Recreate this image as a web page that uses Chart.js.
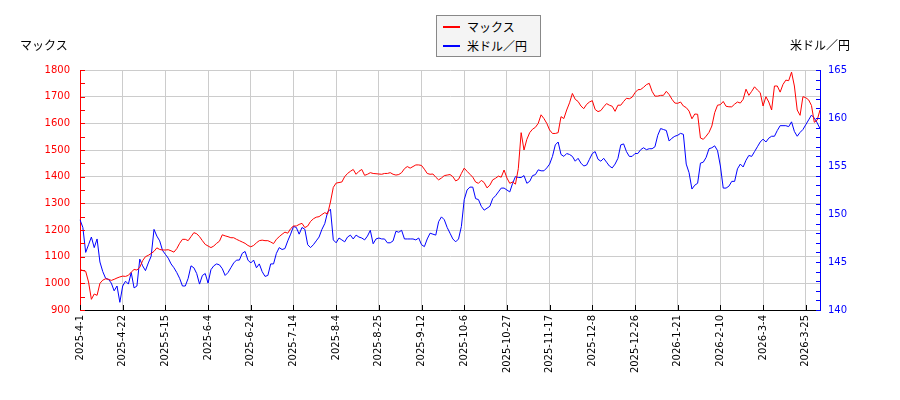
<!DOCTYPE html>
<html>
<head>
<meta charset="utf-8">
<script src="https://cdn.jsdelivr.net/npm/chart.js@4/dist/chart.umd.min.js"></script>
<style>
  html, body { margin:0; padding:0; background:#fff; }
  #wrap { position:relative; width:900px; height:400px; }
  canvas { position:absolute; left:0; top:0; }
  .ttl { position:absolute; font-family:"Noto Sans CJK JP", sans-serif; font-size:12px; color:#000; line-height:14px; white-space:nowrap; }
  #legend { position:absolute; left:436px; top:15px; width:103px; height:40px; border:1px solid #888; background:#f4f4f4; font-family:"Noto Sans CJK JP", sans-serif; font-size:12px; color:#000; }
  .li { position:absolute; left:0; height:16px; width:100px; }
  .sw { position:absolute; left:6px; top:7px; width:17px; height:2px; }
  .lt { position:absolute; left:30px; top:0; line-height:16px; white-space:nowrap; }
</style>
</head>
<body>
<div id="wrap">
  <canvas id="c" width="900" height="400"></canvas>
  <div class="ttl" style="left:20px; top:38px;">マックス</div>
  <div class="ttl" style="right:50px; top:38px;">米ドル／円</div>
  <div id="legend">
    <div class="li" style="top:3px;"><span class="sw" style="background:#ff0000"></span><span class="lt">マックス</span></div>
    <div class="li" style="top:22px;"><span class="sw" style="background:#0000ff"></span><span class="lt">米ドル／円</span></div>
  </div>
</div>
<script>
const seriesNames = ["マックス", "米ドル／円"];
const tickLabels = ["2025-4-1","2025-4-22","2025-5-15","2025-6-4","2025-6-24","2025-7-14","2025-8-4","2025-8-25","2025-9-12","2025-10-6","2025-10-27","2025-11-17","2025-12-8","2025-12-26","2026-1-21","2026-2-10","2026-3-4","2026-3-25"];
const tickEvery = 15;

const makkusu = [
1052,1048,1045,1005,940,960,955,1000,1012,1017,
1015,1011,1015,1020,1024,1027,1026,1030,1042,1052,
1050,1060,1085,1100,1105,1112,1120,1133,1127,1125,
1125,1126,1122,1117,1130,1150,1165,1165,1160,1175,
1190,1186,1175,1160,1146,1140,1134,1140,1150,1158,
1182,1178,1175,1171,1171,1165,1160,1155,1150,1142,
1137,1142,1152,1160,1162,1160,1160,1155,1149,1165,
1175,1184,1192,1188,1205,1215,1215,1221,1225,1209,
1215,1232,1242,1248,1250,1258,1265,1260,1305,1360,
1376,1378,1380,1400,1412,1420,1427,1409,1420,1427,
1405,1409,1415,1412,1411,1410,1409,1412,1412,1415,
1409,1406,1408,1415,1430,1438,1432,1438,1444,1444,
1442,1428,1412,1409,1410,1398,1388,1395,1404,1406,
1408,1400,1384,1390,1412,1432,1420,1409,1398,1380,
1375,1386,1378,1358,1368,1388,1394,1402,1398,1425,
1395,1375,1380,1372,1430,1565,1500,1540,1565,1578,
1585,1600,1632,1618,1600,1575,1562,1562,1565,1625,
1618,1650,1677,1712,1690,1682,1665,1655,1671,1680,
1685,1652,1644,1648,1662,1674,1668,1664,1645,1668,
1668,1682,1694,1692,1698,1715,1726,1727,1735,1745,
1750,1720,1702,1702,1705,1705,1720,1708,1690,1676,
1675,1680,1665,1659,1646,1617,1635,1634,1545,1540,
1552,1566,1590,1640,1668,1670,1682,1664,1662,1662,
1672,1680,1676,1690,1728,1705,1720,1737,1725,1715,
1665,1700,1680,1650,1740,1740,1717,1746,1762,1760,
1792,1740,1650,1630,1700,1696,1688,1667,1604,1612,
1650
];

const usdjpy = [
149.4,148.6,146.0,146.8,147.6,146.5,147.4,145.0,144.0,143.3,
143.2,142.8,142.0,142.5,140.8,142.5,143.0,142.7,143.9,142.3,
142.5,145.3,144.6,144.1,144.9,145.6,148.4,147.7,147.2,146.2,
145.8,145.4,144.8,144.4,143.9,143.3,142.5,142.5,143.3,144.6,
144.4,143.8,142.7,143.6,143.8,142.8,144.2,144.6,144.8,144.7,
144.3,143.6,143.9,144.4,144.9,145.2,145.2,145.9,146.1,145.2,
144.9,145.2,144.4,144.8,144.0,143.5,143.6,144.8,144.8,145.9,
146.5,146.3,146.4,147.2,147.9,148.7,148.6,147.9,148.6,148.4,
146.8,146.5,146.8,147.2,147.6,148.4,149.0,150.2,150.5,147.3,
147.0,147.5,147.3,147.1,147.6,147.8,147.4,147.8,147.6,147.5,
147.3,147.7,148.3,146.9,147.4,147.5,147.4,147.4,147.0,147.0,
147.2,148.2,148.1,148.3,147.4,147.4,147.4,147.4,147.3,147.5,
146.8,146.6,147.4,148.0,147.9,147.8,149.2,149.7,149.4,148.6,
148.0,147.4,147.1,147.4,148.7,151.5,152.5,152.8,152.8,151.6,
151.5,150.8,150.4,150.6,150.8,151.6,151.9,152.3,152.7,152.7,
152.5,152.3,153.2,153.9,153.8,153.8,154.0,153.2,153.4,154.0,
154.1,154.6,154.5,154.5,154.8,155.2,156.0,157.2,157.5,156.2,
156.0,156.3,156.2,156.0,155.5,155.8,155.3,155.0,155.1,155.7,
156.3,156.5,155.7,155.5,155.8,155.4,155.0,154.8,155.2,155.8,
157.2,157.3,156.5,156.0,156.0,156.3,156.3,156.7,156.9,156.7,
156.8,156.8,157.0,158.2,158.9,158.8,158.7,157.6,157.9,158.1,
158.2,158.4,158.3,155.2,154.3,152.6,153.0,153.2,155.3,155.4,
155.9,156.8,156.9,157.1,156.6,155.0,152.7,152.7,152.9,153.4,
153.4,154.7,155.2,154.9,155.6,156.1,156.0,156.5,157.0,157.5,
157.8,157.5,157.9,158.1,158.1,158.7,159.2,159.2,159.2,159.1,
159.6,158.6,158.1,158.5,158.8,159.3,159.8,160.3,160.0,159.5,
158.9
];

const leftRange = [900, 1800];
const rightRange = [140, 165];

const categories = makkusu.map((_, i) => i);

const inwardTicks = {
  id: 'inwardTicks',
  afterDraw(chart) {
    const c = chart.ctx, a = chart.chartArea;
    const sy = chart.scales.y, s1 = chart.scales.y1, sx = chart.scales.x;
    c.save();
    c.lineWidth = 1;
    c.strokeStyle = '#ff0000';
    sy.ticks.forEach(t => {
      const p = Math.round(sy.getPixelForValue(t.value)) + 0.5;
      c.beginPath(); c.moveTo(a.left, p); c.lineTo(a.left + 5, p); c.stroke();
    });
    c.strokeStyle = '#0000ff';
    s1.ticks.forEach(t => {
      const p = Math.round(s1.getPixelForValue(t.value)) + 0.5;
      c.beginPath(); c.moveTo(a.right, p); c.lineTo(a.right - 4, p); c.stroke();
    });
    c.strokeStyle = '#000000';
    sx.ticks.forEach(t => {
      const p = Math.round(sx.getPixelForValue(t.value)) + 0.5;
      c.beginPath(); c.moveTo(p, a.bottom); c.lineTo(p, a.bottom - 5); c.stroke();
    });
    c.restore();
  }
};

new Chart(document.getElementById('c'), {
  type: 'line',
  data: {
    labels: categories,
    datasets: [
      { label: seriesNames[0], data: makkusu, borderColor: '#ff0000', borderWidth: 1, pointRadius: 0, tension: 0, yAxisID: 'y' },
      { label: seriesNames[1], data: usdjpy, borderColor: '#0000ff', borderWidth: 1, pointRadius: 0, tension: 0, yAxisID: 'y1' }
    ]
  },
  options: {
    responsive: false,
    animation: false,
    layout: { padding: { top: 70, left: 0, right: 0, bottom: 0 } },
    plugins: { legend: { display: false }, tooltip: { enabled: false }, title: { display: false } },
    scales: {
      x: {
        type: 'category',
        afterBuildTicks: s => { s.ticks = s.ticks.filter(t => t.value % tickEvery === 0); },
        afterFit: s => { s.height = 90; },
        ticks: {
          autoSkip: false, minRotation: 90, maxRotation: 90, padding: 5, color: '#000',
          font: { family: 'DejaVu Sans', size: 10 },
          callback: v => tickLabels[v / tickEvery]
        },
        grid: { color: '#cccccc', drawTicks: false },
        border: { color: '#000000' }
      },
      y: {
        position: 'left',
        min: leftRange[0], max: leftRange[1],
        afterFit: s => { s.width = 80; },
        ticks: {
          autoSkip: false, stepSize: 50, padding: 10, color: '#ff0000',
          font: { family: 'DejaVu Sans', size: 10 },
          callback: v => (v % 100 === 0 ? String(v) : '')
        },
        grid: { color: ctx => (ctx.tick && ctx.tick.value % 100 === 0 ? '#cccccc' : 'rgba(0,0,0,0)'), drawTicks: false },
        border: { color: '#ff0000' }
      },
      y1: {
        position: 'right',
        min: rightRange[0], max: rightRange[1],
        afterFit: s => { s.width = 80; },
        ticks: {
          autoSkip: false, stepSize: 1, padding: 8, color: '#0000ff',
          font: { family: 'DejaVu Sans', size: 10 },
          callback: v => (v % 5 === 0 ? String(v) : '')
        },
        grid: { drawOnChartArea: false, drawTicks: false },
        border: { color: '#0000ff' }
      }
    }
  },
  plugins: [inwardTicks]
});
</script>
</body>
</html>
